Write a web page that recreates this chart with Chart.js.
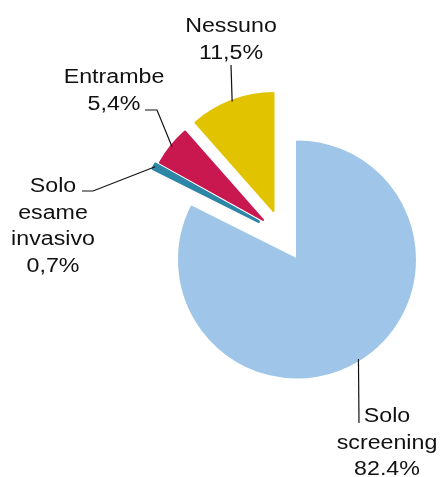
<!DOCTYPE html>
<html>
<head>
<meta charset="utf-8">
<script src="https://cdn.jsdelivr.net/npm/chart.js@4"></script>
<style>
  html, body { margin: 0; padding: 0; background: #fff; }
  canvas { display: block; }
</style>
</head>
<body>
<canvas id="chart" width="440" height="477"></canvas>
<script>
// data
const labels = ['Solo screening', 'Solo esame invasivo', 'Entrambe', 'Nessuno'];
const values = [82.4, 0.7, 5.4, 11.5];
const valueText = ['82.4%', '0,7%', '5,4%', '11,5%'];
const labelLines = [['Solo', 'screening'], ['Solo', 'esame', 'invasivo'], ['Entrambe'], ['Nessuno']];

// look
const colors = ['#9fc5e8', '#2d86a6', '#c9174f', '#e2c300'];
const borders = [2, 3, 2, 2];
const shift = [[12.5, 19], [-26, -19], [-21.5, -20.5], [-11, -29.5]];  // px each slice is pulled out
const labelPos = [[387, 422], [53, 192], [114, 83], [231, 32]];  // centre x, first baseline
const leaderEnds = [
  [[359, 423]],
  [[93, 191], [82, 191]],
  [[157, 110], [145, 110]],
  [[231, 65]]
];
const lineH = 26.5;

const explodePlugin = {
  id: 'explode',
  beforeDatasetDraw(chart, args) {
    const ctx = chart.ctx;
    args.meta.data.forEach((arc, i) => {
      ctx.save();
      ctx.translate(shift[i][0], shift[i][1]);
      arc.draw(ctx);
      ctx.restore();
    });
    return false;
  }
};

function stretchText(ctx, str, x, y) {
  ctx.save();
  ctx.translate(x, y);
  ctx.scale(1.16, 1);
  ctx.fillText(str, 0, 0);
  ctx.restore();
}

const labelPlugin = {
  id: 'pieLabels',
  afterDraw(chart) {
    const ctx = chart.ctx;
    const meta = chart.getDatasetMeta(0);
    ctx.save();
    ctx.strokeStyle = '#111';
    ctx.lineWidth = 1.2;
    ctx.fillStyle = '#111';
    ctx.font = '20px "Liberation Sans", Arial, sans-serif';
    ctx.textAlign = 'center';
    ctx.textBaseline = 'alphabetic';
    meta.data.forEach((arc, i) => {
      const mid = (arc.startAngle + arc.endAngle) / 2;
      const r = arc.outerRadius - 1;
      const ax = arc.x + shift[i][0] + Math.cos(mid) * r;
      const ay = arc.y + shift[i][1] + Math.sin(mid) * r;
      ctx.beginPath();
      ctx.moveTo(ax, ay);
      leaderEnds[i].forEach(p => ctx.lineTo(p[0], p[1]));
      ctx.stroke();
      const lines = labelLines[i].concat([valueText[i]]);
      lines.forEach((t, k) => stretchText(ctx, t, labelPos[i][0], labelPos[i][1] + k * lineH));
    });
    ctx.restore();
  }
};

new Chart(document.getElementById('chart'), {
  type: 'pie',
  data: {
    labels: labels,
    datasets: [{
      data: values,
      backgroundColor: colors,
      borderColor: colors,
      borderWidth: borders,
      borderJoinStyle: 'round',
      radius: 118
    }]
  },
  options: {
    responsive: false,
    animation: false,
    layout: { padding: { left: 129, right: 0, top: 4, bottom: 0 } },
    plugins: { legend: { display: false }, tooltip: { enabled: false } }
  },
  plugins: [explodePlugin, labelPlugin]
});
</script>
</body>
</html>
